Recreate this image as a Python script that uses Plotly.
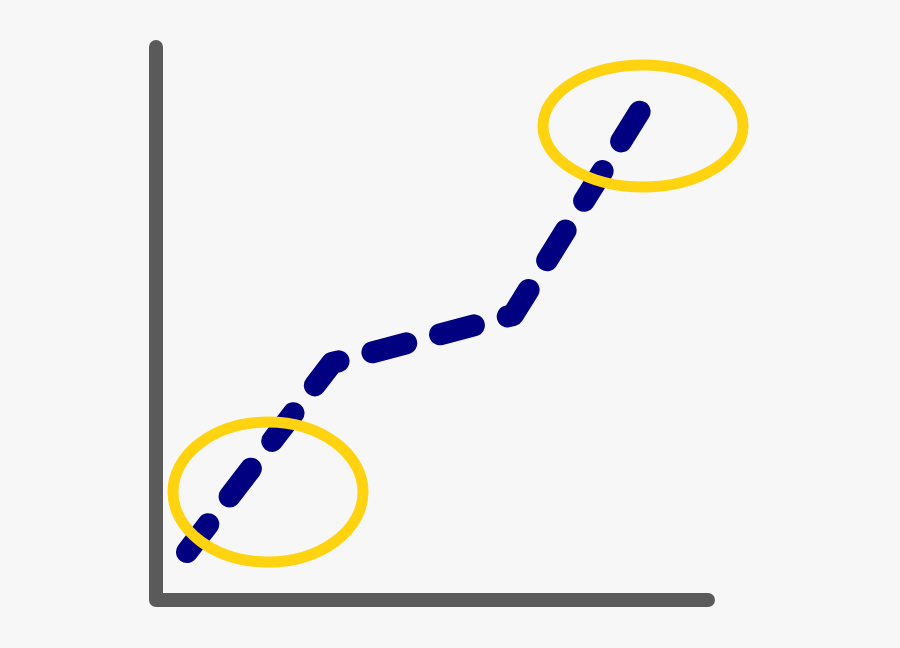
import plotly.graph_objects as go

# Data: dashed trend line points (pixel-like data coordinates)
line_x = [187, 332, 513, 645]
line_y = [552, 363, 315, 103]

# Axis frame lines
axis_x = [156, 156, 708]
axis_y = [47, 600, 600]

# Highlight ellipses: centers and radii
ell_cx = [268, 643]
ell_cy = [492, 126]
ell_rx = [95, 100]
ell_ry = [70, 61]

fig = go.Figure()
fig.add_trace(go.Scatter(x=axis_x, y=axis_y, mode="lines",
                         line=dict(color="#5a5a5a", width=14),
                         hoverinfo="skip", showlegend=False))
fig.add_trace(go.Scatter(x=line_x, y=line_y, mode="lines",
                         line=dict(color="#000080", width=22, dash="35px,35px"),
                         hoverinfo="skip", showlegend=False))

for cx, cy, rx, ry in zip(ell_cx, ell_cy, ell_rx, ell_ry):
    fig.add_shape(type="circle", xref="x", yref="y",
                  x0=cx - rx, x1=cx + rx, y0=cy - ry, y1=cy + ry,
                  line=dict(color="#FFD30F", width=11), layer="above")

fig.update_layout(
    width=900, height=648,
    margin=dict(l=0, r=0, t=0, b=0),
    paper_bgcolor="#f7f7f7", plot_bgcolor="#f7f7f7",
    xaxis=dict(range=[0, 900], visible=False, fixedrange=True),
    yaxis=dict(range=[648, 0], visible=False, fixedrange=True),
    showlegend=False,
)

post = """
var s = document.createElement('style');
s.textContent = 'html,body{margin:0;padding:0;background:#f7f7f7;overflow:hidden} .scatterlayer .js-line{stroke-linecap:round !important;stroke-linejoin:round !important}';
document.head.appendChild(s);
"""
fig.write_html("out.html", post_script=post, config={"displayModeBar": False})
